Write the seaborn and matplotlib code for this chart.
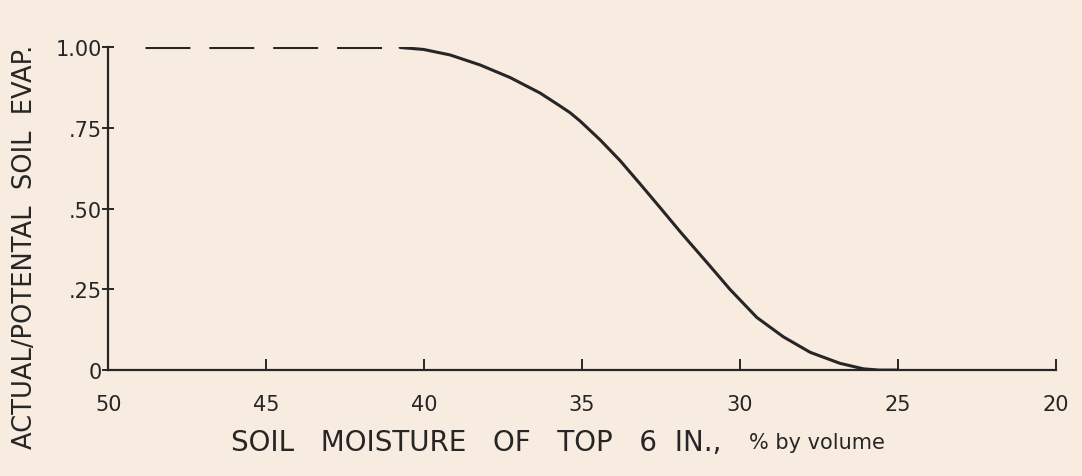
import matplotlib
matplotlib.use("Agg")
import matplotlib.pyplot as plt
import seaborn as sns
import pandas as pd

# Data
dash_x = [48.83, 41.3]
dash_y = [1.0, 1.0]
curve_x = [40.76, 40.02, 39.18, 38.23, 37.28, 36.33, 35.70, 35.38, 35.06, 34.43,
           33.80, 33.16, 32.53, 31.90, 31.27, 30.95, 30.32, 29.47, 28.63, 27.78,
           26.84, 26.10, 25.60, 25.00]
curve_y = [0.999, 0.993, 0.976, 0.945, 0.906, 0.858, 0.818, 0.797, 0.771, 0.713,
           0.649, 0.576, 0.503, 0.429, 0.358, 0.322, 0.250, 0.163, 0.103, 0.055,
           0.021, 0.004, 0.0, 0.0]
x_ticks = [50, 45, 40, 35, 30, 25, 20]
x_labels = ["50", "45", "40", "35", "30", "25", "20"]
y_ticks = [0, 0.25, 0.5, 0.75, 1.0]
y_labels = ["0", ".25", ".50", ".75", "1.00"]

bg = "#f8ece0"
ink = "#262626"

sns.set_theme(style="white")
plt.rcParams["font.family"] = ["DejaVu Sans"]

fig = plt.figure(figsize=(10.82, 4.77), dpi=100, facecolor=bg)
ax = fig.add_axes([0.1, 0.222, 0.876, 0.677], facecolor=bg)

dash_df = pd.DataFrame({"x": dash_x, "y": dash_y})
curve_df = pd.DataFrame({"x": curve_x, "y": curve_y})

sns.lineplot(data=dash_df, x="x", y="y", ax=ax, color=ink, lw=2.2,
             linestyle=(0, (14.7, 6.2)), sort=False)
sns.lineplot(data=curve_df, x="x", y="y", ax=ax, color=ink, lw=2.2, sort=False)

ax.set_xlim(50, 20)
ax.set_ylim(0, 1.0)
ax.set_xticks(x_ticks)
ax.set_xticklabels(x_labels)
ax.set_yticks(y_ticks)
ax.set_yticklabels(y_labels)

for s in ["top", "right"]:
    ax.spines[s].set_visible(False)
for s in ["left", "bottom"]:
    ax.spines[s].set_color(ink)
    ax.spines[s].set_linewidth(1.6)

ax.tick_params(axis="x", direction="in", length=8, width=1.4, color=ink,
               labelsize=15, labelcolor=ink, pad=17, bottom=True)
ax.tick_params(axis="y", direction="inout", length=8, width=1.4, color=ink,
               labelsize=15, labelcolor=ink, pad=0.5, left=True)

ax.set_xlabel("SOIL   MOISTURE   OF   TOP   6  IN.,", fontsize=20, color=ink,
              va="center")
ax.xaxis.set_label_coords(0.3885, -0.224)
ax.text(0.748, -0.224, "% by volume", transform=ax.transAxes, fontsize=15,
        color=ink, ha="center", va="center")

ax.set_ylabel("ACTUAL/POTENTAL  SOIL  EVAP.", fontsize=18.5, color=ink)
ax.yaxis.set_label_coords(-0.074, 0.385)
ax.grid(False)

fig.savefig("out.png", dpi=100, facecolor=bg)
